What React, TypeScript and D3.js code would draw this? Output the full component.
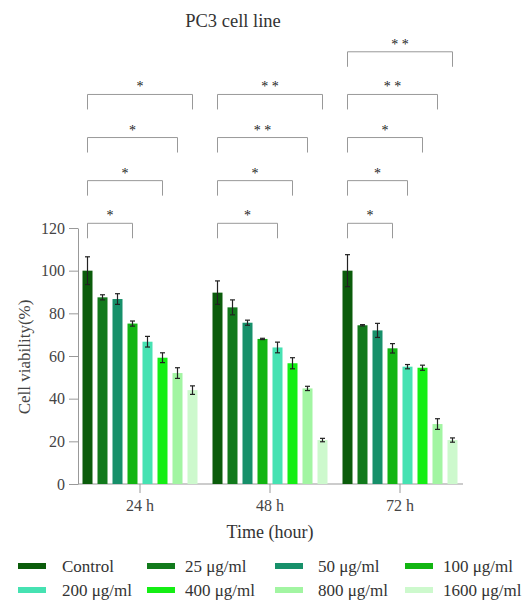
import { useEffect, useRef } from 'react'
import * as d3 from 'd3'

const timePoints = ['24 h', '48 h', '72 h']
const doses = ['Control', '25 μg/ml', '50 μg/ml', '100 μg/ml', '200 μg/ml', '400 μg/ml', '800 μg/ml', '1600 μg/ml']
const doseColors = ['#0b5c0b', '#127a1c', '#17906a', '#12b512', '#46e2b2', '#14ee14', '#a2f5a2', '#cdf9cd']

const viability24 = [100, 87.5, 86.7, 75.2, 66.7, 59.2, 52, 44]
const error24 = [6.5, 1.2, 2.5, 1.2, 2.5, 2.3, 2.5, 2]
const viability48 = [89.7, 82.8, 75.6, 68, 64, 56.6, 44.8, 20.6]
const error48 = [5.5, 3.5, 1.2, 0.3, 2.5, 2.6, 1, 0.8]
const viability72 = [100, 74.4, 72, 63.6, 55, 54.5, 28.1, 20.6]
const error72 = [7.5, 0.3, 3.3, 2.2, 1, 1.2, 2.5, 1]

const yTicks = [0, 20, 40, 60, 80, 100, 120]

// significance vs Control, one bracket per level (lowest first)
const bracketLevels = [122.2, 142.2, 162.4, 182.6, 202.6]
const sigDose24 = ['100 μg/ml', '400 μg/ml', '800 μg/ml', '1600 μg/ml']
const sigLabel24 = ['*', '*', '*', '*']
const sigDose48 = ['200 μg/ml', '400 μg/ml', '800 μg/ml', '1600 μg/ml']
const sigLabel48 = ['*', '*', '* *', '* *']
const sigDose72 = ['100 μg/ml', '200 μg/ml', '400 μg/ml', '800 μg/ml', '1600 μg/ml']
const sigLabel72 = ['*', '*', '*', '* *', '* *']

const FONT = "'Liberation Serif', 'DejaVu Serif', serif"

export default function App() {
  const ref = useRef<SVGSVGElement | null>(null)

  useEffect(() => {
    const node = ref.current
    if (!node) return
    const svg = d3.select(node)
    svg.selectAll('*').remove()

    const values = [viability24, viability48, viability72]
    const errors = [error24, error48, error72]
    const sigDoses = [sigDose24, sigDose48, sigDose72]
    const sigLabels = [sigLabel24, sigLabel48, sigLabel72]

    const axisX = 78
    const x0 = d3.scaleBand<string>().domain(timePoints).range([75, 465])
    const x1 = d3
      .scaleBand<string>()
      .domain(doses)
      .range([5, 125])
      .paddingInner(1 / 3)
      .paddingOuter(1 / 6)
    const y = d3.scaleLinear().domain([0, 120]).range([484, 228])
    const color = d3.scaleOrdinal<string, string>().domain(doses).range(doseColors)

    const label = (sel: d3.Selection<SVGTextElement, unknown, null, undefined>, size: number, fill: string) =>
      sel.style('font-family', FONT).style('font-size', `${size}px`).attr('fill', fill)

    // title
    svg
      .append('text')
      .attr('x', 233)
      .attr('y', 27)
      .attr('text-anchor', 'middle')
      .call(label, 18.5, '#333')
      .text('PC3 cell line')

    // y axis
    const gy = svg
      .append('g')
      .attr('transform', `translate(${axisX},0)`)
      .call(d3.axisLeft(y).tickValues(yTicks).tickSize(9).tickPadding(4).tickSizeOuter(0))
    gy.select('.domain').attr('stroke', '#999')
    gy.selectAll('line').attr('stroke', '#999')
    gy.selectAll('text').style('font-family', FONT).style('font-size', '16px').attr('fill', '#444')

    // x axis
    const gx = svg
      .append('g')
      .attr('transform', `translate(0,${y(0)})`)
      .call(d3.axisBottom(x0).tickSize(9).tickPadding(7).tickSizeOuter(0))
    gx.select('.domain').remove()
    gx.selectAll('line').attr('stroke', '#999')
    gx.selectAll('text').style('font-family', FONT).style('font-size', '16px').attr('fill', '#444')
    svg
      .append('line')
      .attr('x1', axisX)
      .attr('x2', 463)
      .attr('y1', y(0))
      .attr('y2', y(0))
      .attr('stroke', '#999')

    // axis titles
    svg
      .append('text')
      .attr('x', 270)
      .attr('y', 538)
      .attr('text-anchor', 'middle')
      .call(label, 18, '#333')
      .text('Time (hour)')
    svg
      .append('text')
      .attr('transform', `translate(30,357) rotate(-90)`)
      .attr('text-anchor', 'middle')
      .call(label, 17, '#444')
      .text('Cell viability(%)')

    // bars and error bars
    timePoints.forEach((t, gi) => {
      const g = svg.append('g').attr('transform', `translate(${x0(t)},0)`)
      const rows = doses.map((d, i) => ({ dose: d, v: values[gi][i], e: errors[gi][i] }))
      g.selectAll('rect')
        .data(rows)
        .join('rect')
        .attr('x', (d) => x1(d.dose)!)
        .attr('width', x1.bandwidth())
        .attr('y', (d) => y(d.v))
        .attr('height', (d) => y(0) - y(d.v))
        .attr('fill', (d) => color(d.dose))
      const eb = g
        .selectAll('g.err')
        .data(rows)
        .join('g')
        .attr('class', 'err')
        .attr('transform', (d) => `translate(${x1(d.dose)! + x1.bandwidth() / 2},0)`)
        .attr('stroke', '#222')
        .attr('stroke-width', 1.2)
      eb.append('line').attr('y1', (d) => y(d.v + d.e)).attr('y2', (d) => y(d.v - d.e))
      eb.append('line').attr('x1', -2.5).attr('x2', 2.5).attr('y1', (d) => y(d.v + d.e)).attr('y2', (d) => y(d.v + d.e))
      eb.append('line').attr('x1', -2.5).attr('x2', 2.5).attr('y1', (d) => y(d.v - d.e)).attr('y2', (d) => y(d.v - d.e))

      // brackets
      const cx = (d: string) => x1(d)! + x1.bandwidth() / 2
      sigDoses[gi].forEach((dose, li) => {
        const by = y(bracketLevels[li])
        const xa = cx('Control')
        const xb = cx(dose)
        g.append('path')
          .attr('d', `M${xa},${by + 15}V${by}H${xb}V${by + 15}`)
          .attr('fill', 'none')
          .attr('stroke', '#999')
          .attr('stroke-width', 1)
        g.append('text')
          .attr('x', (xa + xb) / 2)
          .attr('y', by - 3)
          .attr('text-anchor', 'middle')
          .style('white-space', 'pre')
          .call(label, 14, '#222')
          .text(sigLabels[gi][li])
      })
    })

    // legend
    const legendCols = [18, 147, 275, 405]
    const legendText = [62, 185, 318, 443]
    const legendRows = [566, 590]
    const lg = svg.append('g')
    doses.forEach((d, i) => {
      const c = i % 4
      const r = Math.floor(i / 4)
      lg.append('rect')
        .attr('x', legendCols[c])
        .attr('y', legendRows[r] - 3)
        .attr('width', 28)
        .attr('height', 6)
        .attr('fill', color(d))
      lg.append('text')
        .attr('x', legendText[c])
        .attr('y', legendRows[r] + 6)
        .call(label, 17, '#333')
        .text(d)
    })
  }, [])

  return (
    <svg
      ref={ref}
      width={527}
      height={601}
      style={{ position: 'absolute', left: 0, top: 0, background: '#fff' }}
    />
  )
}
